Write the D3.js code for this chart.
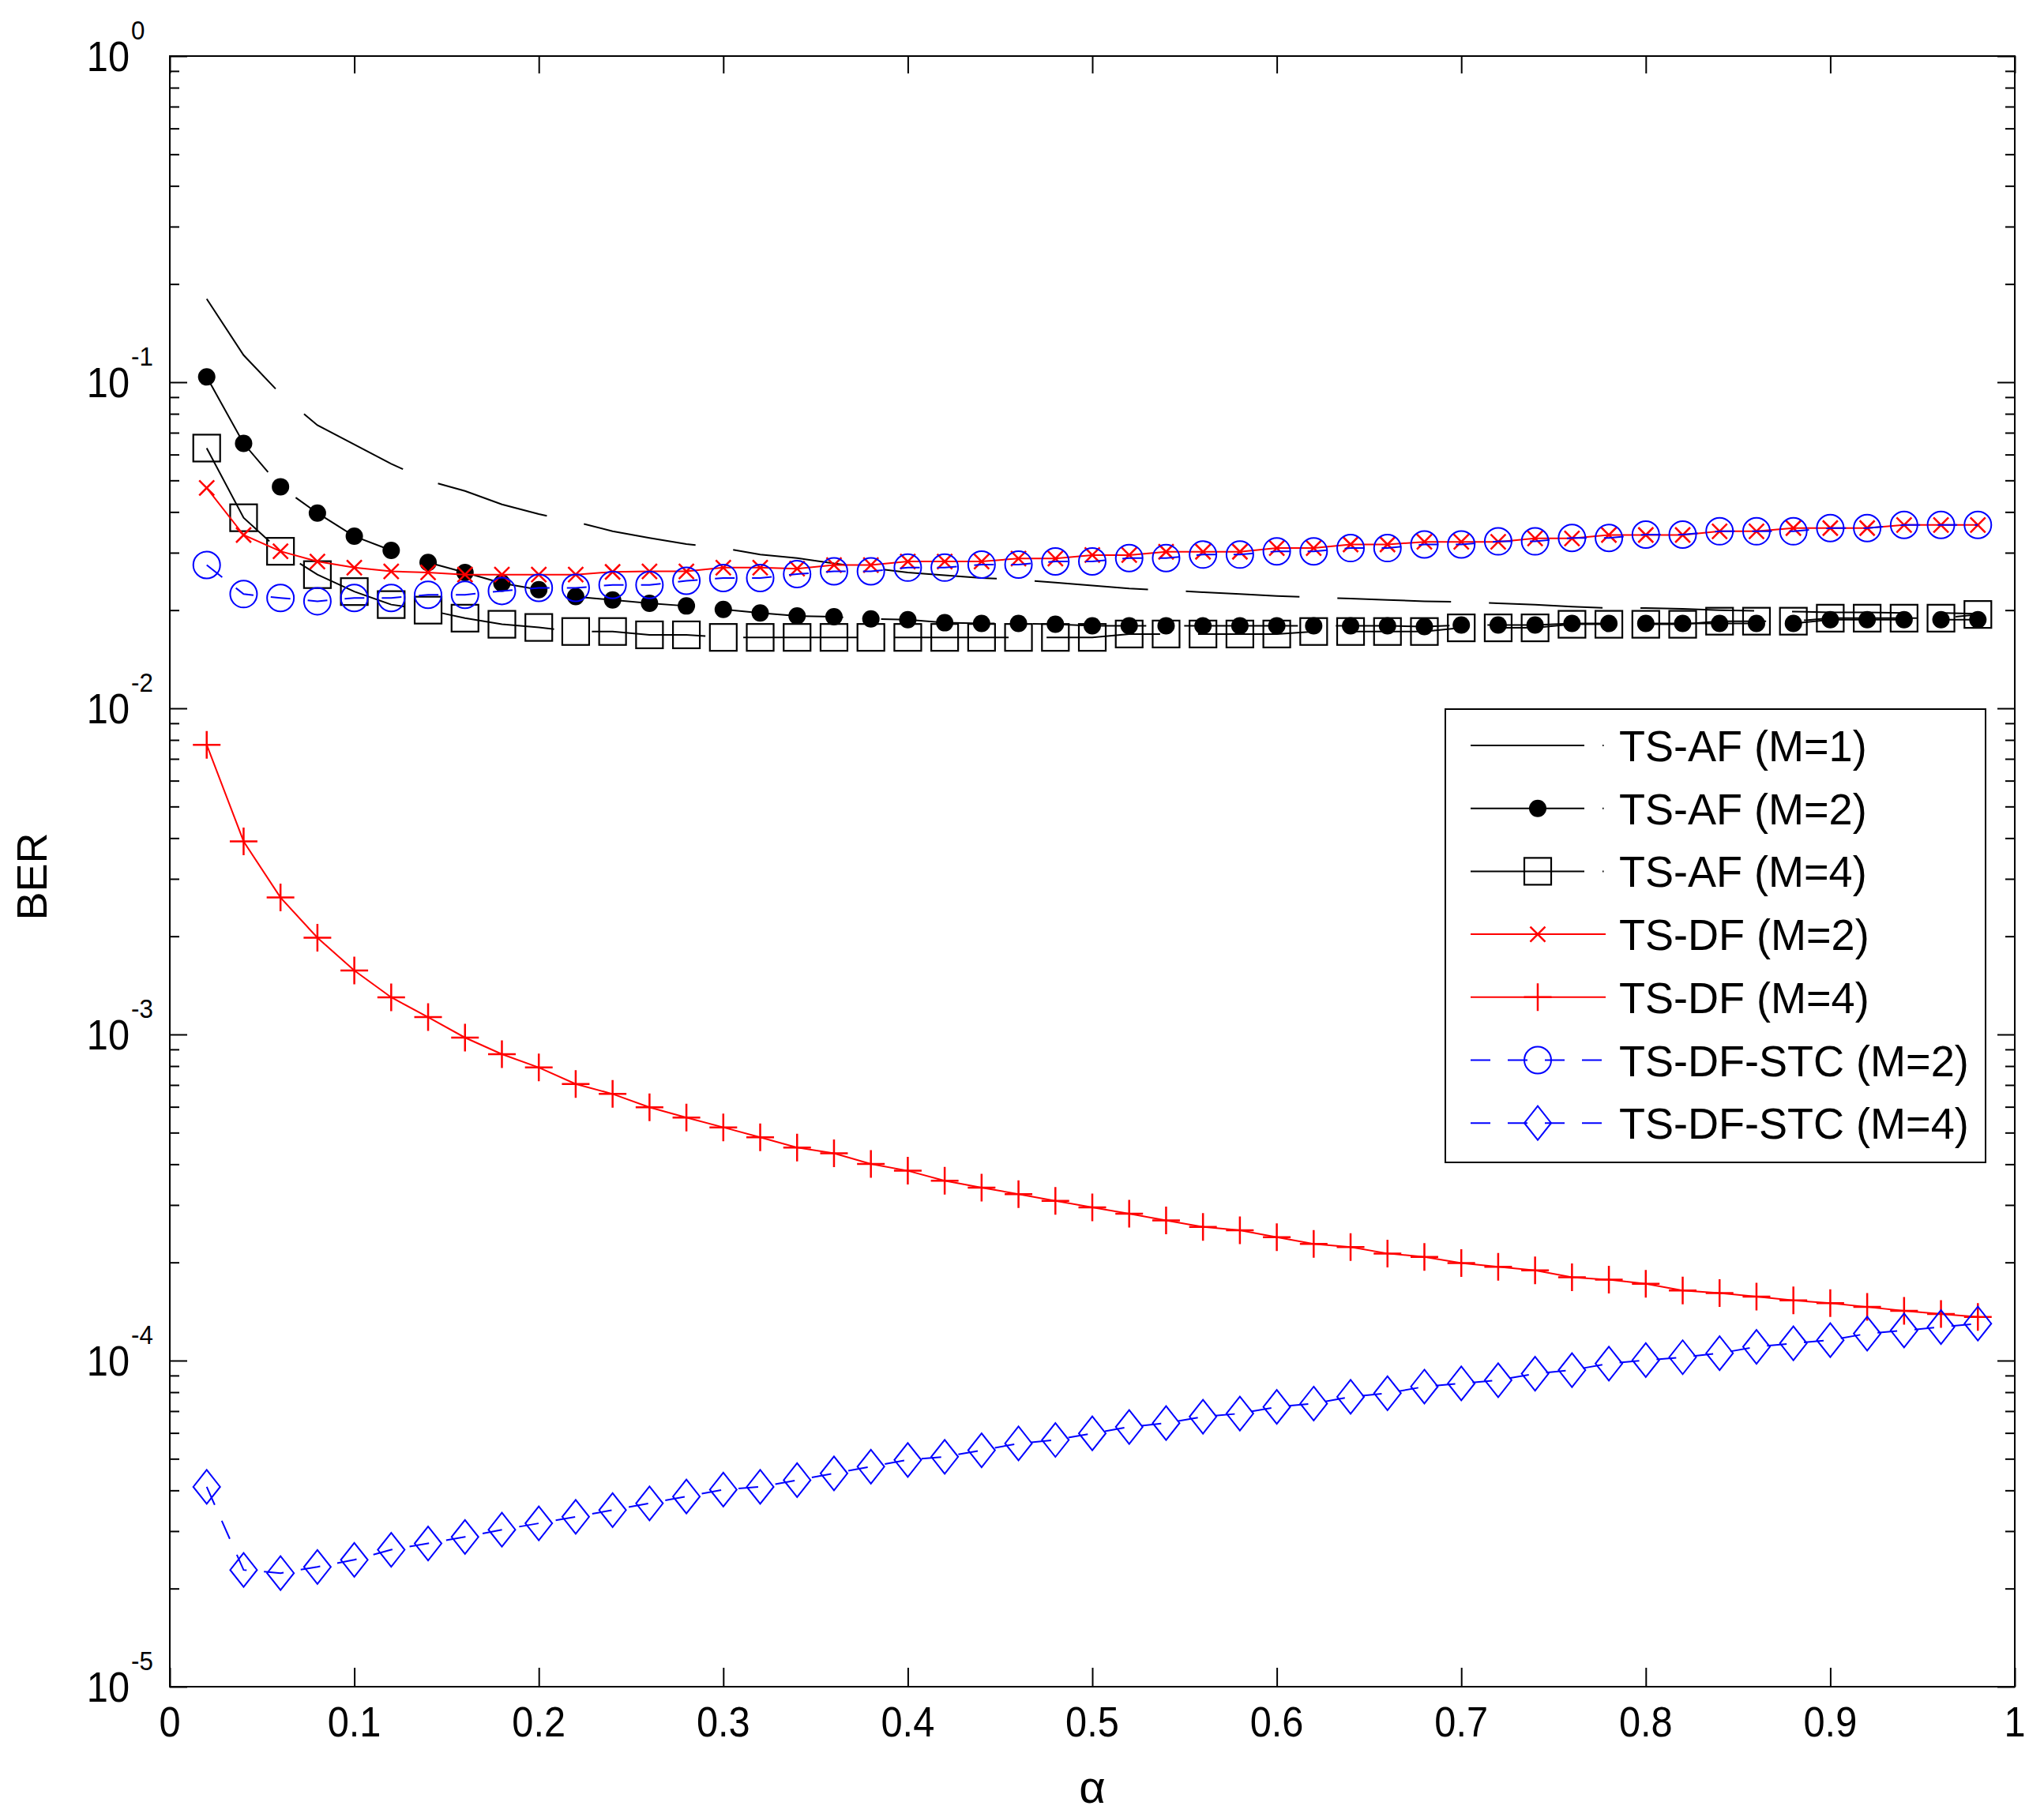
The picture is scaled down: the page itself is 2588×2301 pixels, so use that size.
<!DOCTYPE html>
<html>
<head>
<meta charset="utf-8">
<script src="https://cdn.jsdelivr.net/npm/d3@7/dist/d3.min.js"></script>
<style>
body { margin: 0; background: #fff; }
text { font-family: Arial, "Liberation Sans", sans-serif; fill: #000; }
</style>
</head>
<body>
<script>
// alpha values (x)
alpha = [0.02, 0.04, 0.06, 0.08, 0.10, 0.12, 0.14, 0.16, 0.18, 0.20,
         0.22, 0.24, 0.26, 0.28, 0.30, 0.32, 0.34, 0.36, 0.38, 0.40,
         0.42, 0.44, 0.46, 0.48, 0.50, 0.52, 0.54, 0.56, 0.58, 0.60,
         0.62, 0.64, 0.66, 0.68, 0.70, 0.72, 0.74, 0.76, 0.78, 0.80,
         0.82, 0.84, 0.86, 0.88, 0.90, 0.92, 0.94, 0.96, 0.98]

// BER values
afM1 = [0.180, 0.121, 0.092, 0.0738, 0.0644, 0.0562, 0.0499, 0.0464, 0.0422, 0.0394,
        0.0373, 0.0349, 0.0333, 0.0319, 0.0310, 0.0296, 0.0289, 0.0278, 0.0269, 0.0261,
        0.0256, 0.0251, 0.0248, 0.0243, 0.0238, 0.0233, 0.0230, 0.0227, 0.0224, 0.0221,
        0.0219, 0.0217, 0.0215, 0.0213, 0.0212, 0.0210, 0.0208, 0.0205, 0.0203, 0.0203,
        0.0202, 0.0200, 0.0199, 0.0198, 0.0197, 0.0197, 0.0196, 0.0196, 0.0195]

afM2 = [0.1038, 0.0649, 0.0478, 0.0397, 0.0337, 0.0305, 0.0280, 0.0261, 0.0242, 0.0231,
        0.0220, 0.0215, 0.0210, 0.0206, 0.0201, 0.0196, 0.0192, 0.0191, 0.0188, 0.0187,
        0.0183, 0.0182, 0.0182, 0.0181, 0.0179, 0.0179, 0.0179, 0.0179, 0.0179, 0.0179,
        0.0179, 0.0179, 0.0179, 0.0178, 0.0180, 0.0180, 0.0180, 0.0182, 0.0182, 0.0182,
        0.0182, 0.0182, 0.0182, 0.0182, 0.0187, 0.0187, 0.0187, 0.0187, 0.0187]

afM4 = [0.0628, 0.0384, 0.0303, 0.0257, 0.0228, 0.0208, 0.0200, 0.0189, 0.0181, 0.0177,
        0.0172, 0.0172, 0.0168, 0.0168, 0.0165, 0.0165, 0.0165, 0.0165, 0.0165, 0.0165,
        0.0165, 0.0165, 0.0165, 0.0165, 0.0165, 0.0169, 0.0169, 0.0169, 0.0169, 0.0169,
        0.0172, 0.0172, 0.0172, 0.0172, 0.01765, 0.01765, 0.01765, 0.0181, 0.0181, 0.0181,
        0.0181, 0.0185, 0.0185, 0.0185, 0.0189, 0.0189, 0.0189, 0.0189, 0.0194]

dfM2 = [0.0474, 0.0340, 0.0303, 0.0282, 0.0270, 0.0263, 0.0261, 0.0257, 0.0257, 0.0257,
        0.0257, 0.0262, 0.0263, 0.0263, 0.0270, 0.0270, 0.0268, 0.0275, 0.0275, 0.0282,
        0.0282, 0.0282, 0.0288, 0.0288, 0.0295, 0.0295, 0.0302, 0.0302, 0.0302, 0.0310,
        0.0310, 0.0318, 0.0318, 0.0324, 0.0324, 0.0324, 0.0332, 0.0332, 0.0340, 0.0340,
        0.0340, 0.0349, 0.0349, 0.0357, 0.0357, 0.0357, 0.0365, 0.0365, 0.0365]

dfM4 = [0.00773, 0.00391, 0.00263, 0.00198, 0.00157, 0.00130, 0.00113, 0.000978, 0.000870, 0.000792,
        0.000705, 0.000657, 0.000598, 0.000556, 0.000519, 0.000484, 0.000450, 0.000432, 0.000401, 0.000382,
        0.000356, 0.000339, 0.000324, 0.000309, 0.000295, 0.000282, 0.000269, 0.000257, 0.000251, 0.000239,
        0.000228, 0.000223, 0.000213, 0.000208, 0.000199, 0.000194, 0.000189, 0.000180, 0.000177, 0.000172,
        0.000164, 0.000161, 0.000157, 0.000153, 0.000150, 0.000146, 0.000142, 0.000139, 0.000136]

stcM2 = [0.0275, 0.0224, 0.0218, 0.0213, 0.0218, 0.0218, 0.0223, 0.0223, 0.0229, 0.0234,
         0.0234, 0.0239, 0.0239, 0.0246, 0.0251, 0.0251, 0.0258, 0.0263, 0.0263, 0.0270,
         0.0270, 0.0276, 0.0276, 0.0282, 0.0282, 0.0289, 0.0289, 0.0296, 0.0296, 0.0303,
         0.0303, 0.0310, 0.0310, 0.0318, 0.0318, 0.0325, 0.0325, 0.0333, 0.0333, 0.0341,
         0.0341, 0.0349, 0.0349, 0.0349, 0.0357, 0.0357, 0.0365, 0.0365, 0.0365]

stcM4 = [4.10e-5, 2.28e-5, 2.23e-5, 2.33e-5, 2.45e-5, 2.63e-5, 2.75e-5, 2.88e-5, 3.03e-5, 3.17e-5,
         3.32e-5, 3.48e-5, 3.65e-5, 3.83e-5, 4.02e-5, 4.10e-5, 4.30e-5, 4.51e-5, 4.73e-5, 4.96e-5,
         5.07e-5, 5.31e-5, 5.57e-5, 5.71e-5, 5.98e-5, 6.26e-5, 6.43e-5, 6.73e-5, 6.88e-5, 7.21e-5,
         7.38e-5, 7.74e-5, 7.94e-5, 8.32e-5, 8.51e-5, 8.71e-5, 9.12e-5, 9.35e-5, 9.79e-5, 1.003e-4,
         1.024e-4, 1.053e-4, 1.102e-4, 1.130e-4, 1.155e-4, 1.210e-4, 1.237e-4, 1.267e-4, 1.298e-4]

seriesNames = ["TS-AF (M=1)", "TS-AF (M=2)", "TS-AF (M=4)", "TS-DF (M=2)",
               "TS-DF (M=4)", "TS-DF-STC (M=2)", "TS-DF-STC (M=4)"]
seriesValues = [afM1, afM2, afM4, dfM2, dfM4, stcM2, stcM4]

xTicks = [0, 0.1, 0.2, 0.3, 0.4, 0.5, 0.6, 0.7, 0.8, 0.9, 1]
xTickLabels = ["0", "0.1", "0.2", "0.3", "0.4", "0.5", "0.6", "0.7", "0.8", "0.9", "1"]
yExponents = [0, -1, -2, -3, -4, -5]

// look of each series
styles = [
        {color: "#000", dash: "144,48", legendDash: "144,23,1.5,23", marker: "none"},
        {color: "#000", dash: "144,48", legendDash: "144,23,1.5,23", marker: "dot"},
        {color: "#000", dash: "144,48", legendDash: "144,23,1.5,23", marker: "square"},
        {color: "#f00", dash: null, legendDash: null, marker: "x"},
        {color: "#f00", dash: null, legendDash: null, marker: "plus"},
        {color: "#00f", dash: "25,22", legendDash: "25,22", marker: "circle"},
        {color: "#00f", dash: "25,22", legendDash: "25,22", marker: "diamond"}
]

var W = 2588
var H = 2301
var plotL = 215
var plotR = 2551
var plotT = 71
var plotB = 2136

x = d3.scaleLinear().domain([0, 1]).range([plotL, plotR])
y = d3.scaleLog().domain([1e-5, 1]).range([plotB, plotT])

svg = d3.select("body").append("svg")
        .attr("width", W)
        .attr("height", H)

svg.append("rect").attr("width", W).attr("height", H).attr("fill", "#fff")

yMajor = yExponents.map(function(e) { return Math.pow(10, e) })
yMinor = []
yExponents.forEach(function(e) {
        if (e < 0) {
                for (k = 2; k <= 9; k++) yMinor.push(k * Math.pow(10, e))
        }
})

function cleanAxis(g) {
        g.select(".domain").remove()
        g.selectAll(".tick line").attr("stroke", "#000").attr("stroke-width", 2)
        g.selectAll(".tick text").remove()
}

// ticks, pointing into the plot on all four sides
svg.append("g").attr("transform", "translate(0," + plotB + ")")
        .call(d3.axisBottom(x).tickValues(xTicks).tickSizeInner(-24).tickSizeOuter(0)).call(cleanAxis)
svg.append("g").attr("transform", "translate(0," + plotT + ")")
        .call(d3.axisTop(x).tickValues(xTicks).tickSizeInner(-22).tickSizeOuter(0)).call(cleanAxis)
svg.append("g").attr("transform", "translate(" + plotL + ",0)")
        .call(d3.axisLeft(y).tickValues(yMajor).tickSizeInner(-22).tickSizeOuter(0)).call(cleanAxis)
svg.append("g").attr("transform", "translate(" + plotL + ",0)")
        .call(d3.axisLeft(y).tickValues(yMinor).tickSizeInner(-12).tickSizeOuter(0)).call(cleanAxis)
svg.append("g").attr("transform", "translate(" + plotR + ",0)")
        .call(d3.axisRight(y).tickValues(yMajor).tickSizeInner(-22).tickSizeOuter(0)).call(cleanAxis)
svg.append("g").attr("transform", "translate(" + plotR + ",0)")
        .call(d3.axisRight(y).tickValues(yMinor).tickSizeInner(-12).tickSizeOuter(0)).call(cleanAxis)

svg.append("rect")
        .attr("x", plotL).attr("y", plotT)
        .attr("width", plotR - plotL).attr("height", plotB - plotT)
        .attr("fill", "none").attr("stroke", "#000").attr("stroke-width", 2)

// tick labels (the original font is a little narrower than Arial)
svg.append("g").selectAll("text").data(xTicks).enter().append("text")
        .attr("transform", function(d) { return "translate(" + x(d) + ",2199) scale(0.92,1)" })
        .attr("text-anchor", "middle")
        .attr("font-size", 53)
        .text(function(d, i) { return xTickLabels[i] })

ylab = svg.append("g").selectAll("g").data(yExponents).enter().append("g")
ylab.append("text")
        .attr("transform", function(d) { return "translate(164," + (y(Math.pow(10, d)) + 19) + ") scale(0.92,1)" })
        .attr("text-anchor", "end")
        .attr("font-size", 53)
        .text("10")
ylab.append("text")
        .attr("transform", function(d) { return "translate(166," + (y(Math.pow(10, d)) - 21) + ") scale(0.95,1)" })
        .attr("font-size", 33)
        .text(function(d) { return d == 0 ? "0" : "-" + (-d) })

svg.append("text")
        .attr("transform", "translate(59,1110) rotate(-90)")
        .attr("text-anchor", "middle")
        .attr("font-size", 54)
        .text("BER")

svg.append("text")
        .attr("x", (plotL + plotR) / 2)
        .attr("y", 2283)
        .attr("text-anchor", "middle")
        .attr("font-size", 58)
        .text("α")

function drawMarker(g, kind, color) {
        if (kind == "dot") {
                g.append("circle").attr("r", 11).attr("fill", color)
        } else if (kind == "square") {
                g.append("rect").attr("x", -17).attr("y", -17).attr("width", 34).attr("height", 34)
                        .attr("fill", "none").attr("stroke", color).attr("stroke-width", 2.2)
        } else if (kind == "x") {
                g.append("path").attr("d", "M-9.5,-9.5L9.5,9.5M-9.5,9.5L9.5,-9.5")
                        .attr("stroke", color).attr("stroke-width", 2.5)
        } else if (kind == "plus") {
                g.append("path").attr("d", "M-17.5,0L17.5,0M0,-17.5L0,17.5")
                        .attr("stroke", color).attr("stroke-width", 2.5)
        } else if (kind == "circle") {
                g.append("circle").attr("r", 17)
                        .attr("fill", "none").attr("stroke", color).attr("stroke-width", 2)
        } else if (kind == "diamond") {
                g.append("path").attr("d", "M0,-21.5L17,0L0,21.5L-17,0Z")
                        .attr("fill", "none").attr("stroke", color).attr("stroke-width", 2)
        }
}

line = d3.line()
        .x(function(d) { return x(d[0]) })
        .y(function(d) { return y(d[1]) })

plot = svg.append("g").attr("class", "series")

seriesValues.forEach(function(vals, s) {
        var st = styles[s]
        var pts = alpha.map(function(a, i) { return [a, vals[i]] })
        plot.append("path")
                .attr("d", line(pts))
                .attr("fill", "none")
                .attr("stroke", st.color)
                .attr("stroke-width", 2)
                .attr("stroke-dasharray", st.dash)
        if (st.marker != "none") {
                plot.append("g").selectAll("g").data(pts).enter().append("g")
                        .attr("transform", function(d) { return "translate(" + x(d[0]) + "," + y(d[1]) + ")" })
                        .each(function() { drawMarker(d3.select(this), st.marker, st.color) })
        }
})

// legend
legend = svg.append("g").attr("class", "legend")
legend.append("rect")
        .attr("x", 1830).attr("y", 898)
        .attr("width", 684).attr("height", 574)
        .attr("fill", "#fff").attr("stroke", "#000").attr("stroke-width", 2)

rows = legend.selectAll("g.row").data(seriesNames).enter().append("g")
        .attr("class", "row")
        .attr("transform", function(d, i) { return "translate(0," + (944 + i * 79.7) + ")" })

rows.each(function(name, i) {
        var g = d3.select(this)
        var st = styles[i]
        g.append("line")
                .attr("x1", 1862).attr("x2", 2033)
                .attr("stroke", st.color).attr("stroke-width", 2)
                .attr("stroke-dasharray", st.legendDash)
        var m = g.append("g").attr("transform", "translate(1947,0)")
        drawMarker(m, st.marker, st.color)
        g.append("text")
                .attr("transform", "translate(2050,20) scale(0.965,1)")
                .attr("font-size", 56)
                .text(name)
})
</script>
</body>
</html>
